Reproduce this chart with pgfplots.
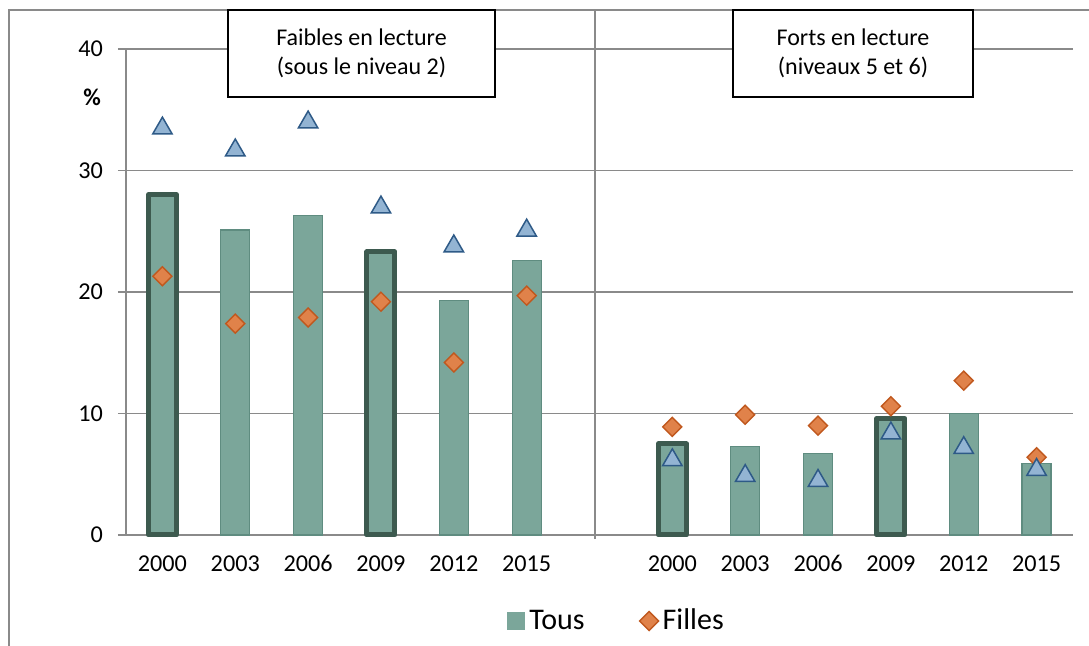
\documentclass[border=0pt]{standalone}
\usepackage{pgfplots}
\pgfplotsset{compat=1.18}
\usepackage{fontspec}
\setmainfont{Carlito}
\definecolor{barfill}{HTML}{7BA69A}
\definecolor{baredge}{HTML}{5F8C80}
\definecolor{bardark}{HTML}{3D5A4F}
\definecolor{dfill}{HTML}{E0824A}
\definecolor{dedge}{HTML}{C0581E}
\definecolor{tfill}{HTML}{93B4D3}
\definecolor{tedge}{HTML}{2E5A87}
\definecolor{gridc}{HTML}{8A8A8A}
\begin{document}
\begin{tikzpicture}
\useasboundingbox (0,0) rectangle (544.5pt,-323pt);
% outer frame (partial)
\draw[gridc,line width=1pt] (4.5pt,-323pt) -- (4.5pt,-5pt) -- (544.5pt,-5pt);
\begin{axis}[
  at={(63pt,-267.5pt)}, anchor=south west,
  scale only axis, width=473.5pt, height=243pt,
  xmin=-0.5, xmax=12.5, ymin=0, ymax=40,
  clip=false,
  axis x line*=bottom, axis y line*=left,
  axis line style={gridc,line width=0.9pt},
  ymajorgrids, grid style={gridc,line width=0.8pt},
  ytick={0,10,20,30,40},
  xtick={0,1,2,3,4,5,7,8,9,10,11,12},
  xticklabels={2000,2003,2006,2009,2012,2015,2000,2003,2006,2009,2012,2015},
  xtick style={draw=none},
  ytick style={gridc,line width=0.9pt},
  tick align=outside, major tick length=4pt,
  /pgf/number format/assume math mode=true,
  ticklabel style={font=\fontsize{12.1}{13}\selectfont},
  xticklabel style={anchor=north, text height=8pt, text depth=0pt, yshift=-2.8pt},
  yticklabel style={xshift=-4pt},
  bar shift=0pt,
  legend style={draw=none, fill=none, at={(0.519,-0.177)}, anchor=center,
    legend columns=2, font=\fontsize{15}{16}\selectfont,
    /tikz/every even column/.append style={column sep=25.5pt},
    legend cell align=left},
]
% Tous (normal bars)
\addplot[ybar, bar width=14.5pt, fill=barfill, draw=baredge, line width=0.6pt,
  legend image code/.code={\fill[barfill] (0pt,-4.25pt) rectangle (8.5pt,4.25pt);}]
  coordinates {(1,25.1) (2,26.3) (4,19.3) (5,22.6) (8,7.3) (9,6.7) (11,10.0) (12,5.9)};
\addlegendentry{Tous}
% Tous (highlighted bars)
\addplot[ybar, forget plot, bar width=14pt, fill=barfill, draw=bardark, line width=2.5pt, line join=round]
  coordinates {(0,28.0) (3,23.3) (7,7.5) (10,9.6)};
% Filles
\addplot[only marks, mark=square*, mark size=3.36pt,
  mark options={rotate=45, fill=dfill, draw=dedge, line width=0.7pt}]
  coordinates {(0,21.3) (1,17.4) (2,17.9) (3,19.2) (4,14.2) (5,19.7)
               (7,8.9) (8,9.9) (9,9.0) (10,10.6) (11,12.7) (12,6.4)};
\addlegendentry{Filles}
% Garcons
\addplot[only marks, forget plot, mark=triangle*, mark size=5.6pt,
  mark options={fill=tfill, draw=tedge, line width=0.75pt, yshift=-1.4pt}]
  coordinates {(0,33.7) (1,31.9) (2,34.2) (3,27.2) (4,24.0) (5,25.3)
               (7,6.4) (8,5.1) (9,4.7) (10,8.6) (11,7.4) (12,5.6)};
% separator
\draw[gridc,line width=0.9pt] (axis cs:5.94,-0.33) -- (axis cs:5.94,43.2);
\end{axis}
% panel titles
\node[draw=black, line width=0.7pt, fill=white, minimum width=133.5pt, minimum height=43.5pt,
  align=center, font=\fontsize{12}{14.5}\selectfont, inner sep=0pt] at (180.75pt,-26.75pt)
  {Faibles en lecture\\(sous le niveau 2)};
\node[draw=black, line width=0.7pt, fill=white, minimum width=120pt, minimum height=43.5pt,
  align=center, font=\fontsize{12}{14.5}\selectfont, inner sep=0pt] at (426.5pt,-26.75pt)
  {Forts en lecture\\(niveaux 5 et 6)};
\node[font=\fontsize{12}{13}\selectfont\bfseries] at (46pt,-48.5pt) {\%};
\end{tikzpicture}
\end{document}
